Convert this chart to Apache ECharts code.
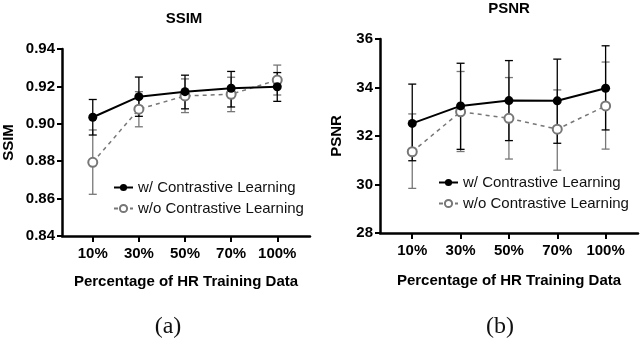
<!DOCTYPE html>
<html>
<head>
<meta charset="utf-8">
<script src="https://cdn.jsdelivr.net/npm/echarts@6/dist/echarts.min.js"></script>
<style>
  html, body { margin: 0; padding: 0; background: #fff; }
  #main { width: 640px; height: 341px; }
</style>
</head>
<body>
<div id="main"></div>
<script>
// categories on the x axis
const categories = ["10%", "30%", "50%", "70%", "100%"];

// SSIM (a)
const ssimWith = [0.9035, 0.9145, 0.9172, 0.919, 0.9198];
const ssimWithLow = [0.894, 0.904, 0.908, 0.909, 0.912];
const ssimWithHigh = [0.913, 0.925, 0.926, 0.928, 0.9274];
const ssimWithout = [0.8794, 0.9078, 0.9149, 0.9158, 0.9234];
const ssimWithoutLow = [0.8623, 0.8984, 0.906, 0.9065, 0.9154];
const ssimWithoutHigh = [0.8967, 0.9172, 0.924, 0.9249, 0.9314];

// PSNR (b)
const psnrWith = [32.52, 33.24, 33.46, 33.45, 33.97];
const psnrWithLow = [30.98, 31.45, 31.81, 31.7, 32.25];
const psnrWithHigh = [34.14, 35.0, 35.11, 35.17, 35.72];
const psnrWithout = [31.35, 33.0, 32.73, 32.28, 33.24];
const psnrWithoutLow = [29.84, 31.36, 31.05, 30.59, 31.46];
const psnrWithoutHigh = [32.91, 34.66, 34.41, 33.9, 35.05];

const nameWith = "w/ Contrastive Learning";
const nameWithout = "w/o Contrastive Learning";

const FONT = "'Liberation Sans', Arial, sans-serif";
const SERIF = "'Liberation Serif', 'Times New Roman', serif";
const GRAY = "#777";
const catIdx = categories.map((c, i) => i);

const points = (vals) => vals.map((v, i) => [i, v]);
const bars = (lo, hi) => lo.map((v, i) => [i, v, hi[i]]);

function errorBar(color, idx, lo, hi) {
  return {
    type: "custom",
    xAxisIndex: idx,
    yAxisIndex: idx,
    silent: true,
    z: 1,
    encode: { x: 0, y: [1, 2] },
    data: bars(lo, hi),
    renderItem: (params, api) => {
      const x = api.value(0);
      const a = api.coord([x, api.value(1)]);
      const b = api.coord([x, api.value(2)]);
      const hw = 4;
      const style = { stroke: color, lineWidth: 1.3 };
      return {
        type: "group",
        children: [
          { type: "line", shape: { x1: a[0], y1: a[1], x2: b[0], y2: b[1] }, style },
          { type: "line", shape: { x1: a[0] - hw, y1: a[1], x2: a[0] + hw, y2: a[1] }, style },
          { type: "line", shape: { x1: b[0] - hw, y1: b[1], x2: b[0] + hw, y2: b[1] }, style },
        ],
      };
    },
  };
}

function lineWith(idx, vals) {
  return {
    name: nameWith,
    type: "line",
    xAxisIndex: idx,
    yAxisIndex: idx,
    data: points(vals),
    symbol: "circle",
    symbolSize: 9,
    z: 3,
    itemStyle: { color: "#000" },
    lineStyle: { color: "#000", width: 2 },
  };
}

function lineWithout(idx, vals) {
  return {
    name: nameWithout,
    type: "line",
    xAxisIndex: idx,
    yAxisIndex: idx,
    data: points(vals),
    symbol: "emptyCircle",
    symbolSize: 9,
    z: 2,
    itemStyle: { color: GRAY, borderWidth: 1.5 },
    lineStyle: { color: GRAY, width: 1.5, type: [4, 4] },
  };
}

function xAxisCfg(idx, max, gap) {
  return {
    type: "value",
    gridIndex: idx,
    min: -0.667,
    max: max,
    splitLine: { show: false },
    axisLine: { onZero: false, lineStyle: { color: "#000", width: 2.5 } },
    axisTick: { customValues: catIdx, length: 6, lineStyle: { color: "#000", width: 2 } },
    axisLabel: {
      customValues: catIdx,
      formatter: (v) => categories[Math.round(v)],
      fontFamily: FONT,
      fontWeight: "bold",
      fontSize: 15,
      color: "#000",
      margin: 10,
    },
    name: "Percentage of HR Training Data",
    nameLocation: "middle",
    nameGap: gap,
    nameTextStyle: { fontFamily: FONT, fontWeight: "bold", fontSize: 15, color: "#000" },
  };
}

function yAxisCfg(idx, min, max, interval, digits, name, gap) {
  return {
    type: "value",
    gridIndex: idx,
    min: min,
    max: max,
    interval: interval,
    splitLine: { show: false },
    axisLine: { show: true, onZero: false, lineStyle: { color: "#000", width: 2.5 } },
    axisTick: { show: true, length: 5, lineStyle: { color: "#000", width: 2 } },
    axisLabel: {
      formatter: (v) => v.toFixed(digits),
      fontFamily: FONT,
      fontWeight: "bold",
      fontSize: 15,
      color: "#000",
      margin: 7,
    },
    name: name,
    nameLocation: "middle",
    nameGap: gap,
    nameTextStyle: { fontFamily: FONT, fontWeight: "bold", fontSize: 15, color: "#000" },
  };
}

const legendText = { fontFamily: FONT, fontSize: 15, color: "#111" };

const chart = echarts.init(document.getElementById("main"));
chart.setOption({
  animation: false,
  backgroundColor: "#fff",
  title: [
    { text: "SSIM", left: 184, top: 11, padding: 0, textAlign: "center",
      textStyle: { fontFamily: FONT, fontWeight: "bold", fontSize: 15, color: "#000" } },
    { text: "PSNR", left: 509, top: 1, padding: 0, textAlign: "center",
      textStyle: { fontFamily: FONT, fontWeight: "bold", fontSize: 15, color: "#000" } },
  ],
  graphic: [
    { type: "text", x: 168, y: 327, style: { text: "(a)", font: "24px " + SERIF, fill: "#111", align: "center", verticalAlign: "middle" } },
    { type: "text", x: 500, y: 327, style: { text: "(b)", font: "24px " + SERIF, fill: "#111", align: "center", verticalAlign: "middle" } },
  ],
  legend: [
    { data: [nameWith, nameWithout], orient: "vertical", left: 113, top: 180, padding: 0,
      itemWidth: 19, itemHeight: 9, itemGap: 6, textStyle: legendText },
    { data: [nameWith, nameWithout], orient: "vertical", left: 438, top: 175, padding: 0,
      itemWidth: 19, itemHeight: 9, itemGap: 6, textStyle: legendText },
  ],
  grid: [
    { left: 60, top: 49, width: 250, height: 187 },
    { left: 380, top: 39, width: 258, height: 194 },
  ],
  xAxis: [xAxisCfg(0, 4.71, 38), xAxisCfg(1, 4.67, 40)],
  yAxis: [
    yAxisCfg(0, 0.84, 0.94, 0.02, 2, "SSIM", 46),
    yAxisCfg(1, 28, 36, 2, 0, "PSNR", 36),
  ],
  series: [
    errorBar(GRAY, 0, ssimWithoutLow, ssimWithoutHigh),
    errorBar("#000", 0, ssimWithLow, ssimWithHigh),
    lineWithout(0, ssimWithout),
    lineWith(0, ssimWith),
    errorBar(GRAY, 1, psnrWithoutLow, psnrWithoutHigh),
    errorBar("#000", 1, psnrWithLow, psnrWithHigh),
    lineWithout(1, psnrWithout),
    lineWith(1, psnrWith),
  ],
});
</script>
</body>
</html>
